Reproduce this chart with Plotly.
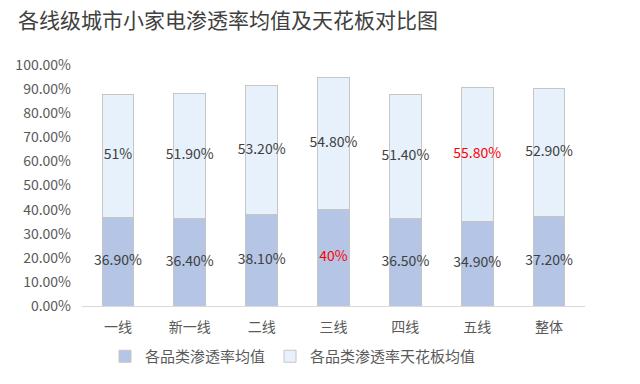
import plotly.graph_objects as go

categories = ["一线", "新一线", "二线", "三线", "四线", "五线", "整体"]
avg_values = [36.9, 36.4, 38.1, 40.0, 36.5, 34.9, 37.2]
ceiling_values = [51.0, 51.9, 53.2, 54.8, 51.4, 55.8, 52.9]
avg_labels = ["36.90%", "36.40%", "38.10%", "40%", "36.50%", "34.90%", "37.20%"]
ceiling_labels = ["51%", "51.90%", "53.20%", "54.80%", "51.40%", "55.80%", "52.90%"]
avg_label_colors = ["#404040", "#404040", "#404040", "#ff0000", "#404040", "#404040", "#404040"]
ceiling_label_colors = ["#404040", "#404040", "#404040", "#404040", "#404040", "#ff0000", "#404040"]
tick_vals = [0, 10, 20, 30, 40, 50, 60, 70, 80, 90, 100]
tick_text = ["%.2f%%" % v for v in tick_vals]

FONT = "Noto Sans CJK SC"
W, H = 640, 384
OFF = 8  # page body margin offset
ML, MR, MT, MB = 82 - OFF, 55 + OFF, 65 - OFF, 78 + OFF
PW, PH = W - ML - MR, H - MT - MB

fig = go.Figure()
fig.add_trace(go.Bar(
    name="各品类渗透率均值", x=categories, y=avg_values, textposition="none",
    marker=dict(color="#b4c5e6", line=dict(color="#c8c6c2", width=1)),
))
fig.add_trace(go.Bar(
    name="各品类渗透率天花板均值", x=categories, y=ceiling_values, textposition="none",
    marker=dict(color="#e7f1fc", line=dict(color="#c8c6c2", width=1)),
))

avg_mid = [v / 2 for v in avg_values]
ceil_mid = [a + c / 2 for a, c in zip(avg_values, ceiling_values)]
fig.add_trace(go.Scatter(x=categories, y=avg_mid, mode="text", text=avg_labels,
                         textposition="middle center", showlegend=False, hoverinfo="skip",
                         textfont=dict(color=avg_label_colors, size=14, family=FONT)))
fig.add_trace(go.Scatter(x=categories, y=ceil_mid, mode="text", text=ceiling_labels,
                         textposition="middle center", showlegend=False, hoverinfo="skip",
                         textfont=dict(color=ceiling_label_colors, size=14, family=FONT)))

fig.update_layout(
    barmode="stack",
    bargap=0.56,
    width=W, height=H,
    paper_bgcolor="white", plot_bgcolor="white",
    margin=dict(l=ML, r=MR, t=MT, b=MB, autoexpand=False),
    font=dict(family=FONT, color="#595959"),
    title=dict(text="各线级城市小家电渗透率均值及天花板对比图", x=(18 - OFF) / W, xanchor="left",
               y=1 - 5 / H, yanchor="top", font=dict(size=21, color="#404040", family=FONT)),
    showlegend=True,
    legend=dict(orientation="h", x=(97 - ML) / PW, xanchor="left", y=-34 / PH, yanchor="top",
                font=dict(size=15, color="#595959"), itemwidth=30, traceorder="normal"),
)
fig.update_yaxes(range=[0, 100], tickvals=tick_vals, ticktext=tick_text, showgrid=False,
                 zeroline=False, showline=False, ticklabelstandoff=10,
                 tickfont=dict(size=14, color="#595959"))
fig.update_xaxes(showline=True, linecolor="#d9d9d9", linewidth=1, ticks="",
                 ticklabelstandoff=8, tickfont=dict(size=14, color="#595959"))
fig.write_html("out.html")
